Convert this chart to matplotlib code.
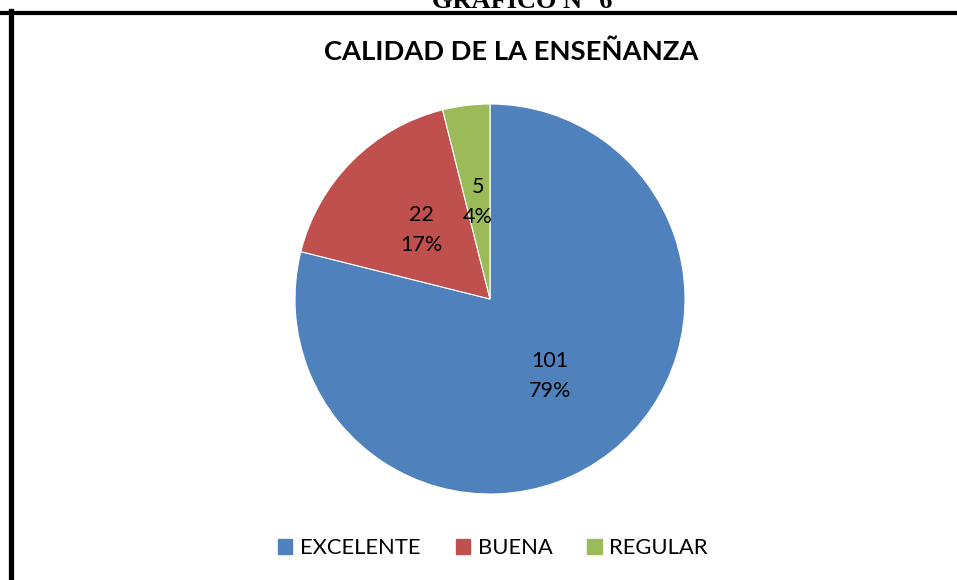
import matplotlib
matplotlib.use("Agg")
import matplotlib.pyplot as plt
from matplotlib.lines import Line2D
from matplotlib.patches import Patch

categories = ["EXCELENTE", "BUENA", "REGULAR"]
counts = [101, 22, 5]
colors = ["#4F81BD", "#C0504D", "#9BBB59"]

plt.rcParams['font.family'] = ['Lato', 'DejaVu Sans']

W, H = 957, 580
fig = plt.figure(figsize=(W / 100, H / 100), dpi=100)

# pie placed in pixel box: center (490, 299), radius 195
cx, cy, r = 490, 299, 195
ax = fig.add_axes([(cx - r) / W, (H - cy - r) / H, 2 * r / W, 2 * r / H])

total = sum(counts)
def lab(pct):
    n = int(round(pct * total / 100.0))
    return "%d\n%d%%" % (n, round(pct))

wedges, texts, autotexts = ax.pie(counts, colors=colors, startangle=90, counterclock=False,
                                  radius=1, autopct=lab, pctdistance=0.5,
                                  wedgeprops=dict(edgecolor="white", linewidth=0.8),
                                  textprops=dict(fontsize=15.5, color="black", linespacing=1.6))
ax.set_xlim(-1, 1)
ax.set_ylim(-1, 1)
ax.axis("off")

fig.text(511 / W, 1 - 52 / H, "CALIDAD DE LA ENSEÑANZA", ha="center", va="center",
         fontsize=19.7, fontweight="bold")

# cut-off heading above the frame
fig.text(522 / W, 1 - 8 / H, "GRAFICO N° 6", ha="center", va="baseline",
         fontsize=19, fontweight="bold", family="Liberation Serif")

# frame lines
fig.add_artist(Line2D([0, 1], [1 - 12.5 / H] * 2, color="black", lw=3, transform=fig.transFigure))
fig.add_artist(Line2D([10.5 / W] * 2, [0, 1 - 11 / H], color="black", lw=3.8, transform=fig.transFigure))

handles = [Patch(facecolor=c, edgecolor=c) for c in colors]
fig.legend(handles, categories, loc="center", bbox_to_anchor=(493 / W, 1 - 548 / H), ncol=3,
           frameon=False, fontsize=15.8, handlelength=0.65, handleheight=0.65,
           handletextpad=0.35, columnspacing=1.6)

fig.savefig("out.png", dpi=100, facecolor="white")
